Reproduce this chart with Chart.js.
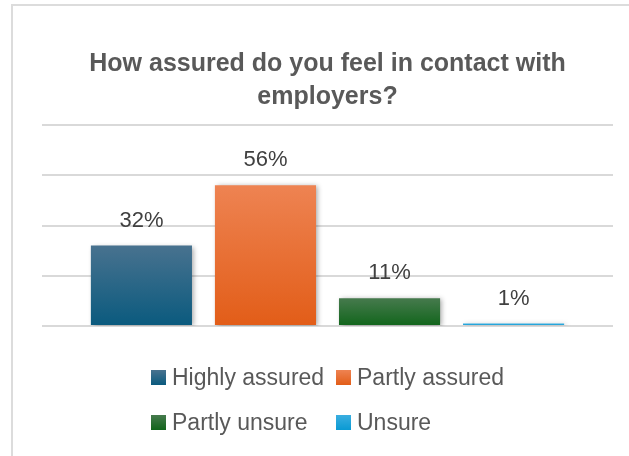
<!DOCTYPE html>
<html>
<head>
<meta charset="utf-8">
<script src="https://cdn.jsdelivr.net/npm/chart.js@4"></script>
<style>
  html, body { margin: 0; padding: 0; background: #ffffff; overflow: hidden; }
  body { width: 629px; height: 456px; position: relative; }
  .frame {
    position: absolute; left: 11px; top: 4px; width: 640px; height: 470px;
    border: 2px solid #dcdcdc; box-sizing: border-box;
  }
  .wrap { position: absolute; left: 12px; top: 5px; width: 631px; height: 451px; }
  .legend {
    position: absolute; left: 151px; top: 365px;
    display: grid; grid-template-columns: 185px 185px; row-gap: 20px;
    font-family: "Liberation Sans", Arial, sans-serif; font-size: 23px; color: #595959;
  }
  .item { display: flex; align-items: center; height: 25px; white-space: nowrap; }
  .box { width: 15px; height: 15px; margin-right: 6px; flex: none; }
</style>
</head>
<body>
<div class="frame"></div>
<div class="wrap"><canvas id="c"></canvas></div>
<div class="legend" id="legend"></div>
<script>
// Survey answers (percent of respondents)
const seriesNames = ['Highly assured', 'Partly assured', 'Partly unsure', 'Unsure'];
const seriesValues = [32, 56, 11, 1];
const titleLines = ['How assured do you feel in contact with', 'employers?'];
// Gradient stops per series: lighter at the top, darker at the base
const topColors = ['#48728f', '#ee8352', '#467a4d', '#3aaee0'];
const baseColors = ['#0a5a7e', '#e25d18', '#11651b', '#0a9ad3'];

function barGradient(i) {
  return (ctx) => {
    const chart = ctx.chart;
    if (!chart.chartArea || !chart.scales.y) return baseColors[i];
    const yScale = chart.scales.y;
    const top = yScale.getPixelForValue(seriesValues[i]);
    const base = yScale.getPixelForValue(0);
    if (!isFinite(top) || !isFinite(base) || top === base) return baseColors[i];
    const g = chart.ctx.createLinearGradient(0, top, 0, base);
    g.addColorStop(0, topColors[i]);
    g.addColorStop(1, baseColors[i]);
    return g;
  };
}

const datasets = seriesNames.map((name, i) => ({
  label: name,
  data: [seriesValues[i]],
  backgroundColor: barGradient(i),
  borderWidth: 0,
  categoryPercentage: 0.869,
  barPercentage: 0.815
}));

// Soft drop shadow behind the bars
const barShadow = {
  id: 'barShadow',
  beforeDatasetsDraw(chart) {
    const ctx = chart.ctx;
    ctx.save();
    ctx.shadowColor = 'rgba(0,0,0,0.35)';
    ctx.shadowBlur = 5;
    ctx.shadowOffsetX = 2;
    ctx.shadowOffsetY = 1;
  },
  afterDatasetsDraw(chart) {
    chart.ctx.restore();
  }
};

// Percentage labels above each bar
const valueLabels = {
  id: 'valueLabels',
  afterDatasetsDraw(chart) {
    const ctx = chart.ctx;
    ctx.save();
    ctx.font = '22px "Liberation Sans", Arial, sans-serif';
    ctx.fillStyle = '#404040';
    ctx.textAlign = 'center';
    ctx.textBaseline = 'middle';
    chart.data.datasets.forEach((ds, i) => {
      const meta = chart.getDatasetMeta(i);
      meta.data.forEach((bar, j) => {
        ctx.fillText(ds.data[j] + '%', bar.x, bar.y - 25);
      });
    });
    ctx.restore();
  }
};

new Chart(document.getElementById('c'), {
  type: 'bar',
  data: { labels: [''], datasets },
  plugins: [barShadow, valueLabels],
  options: {
    responsive: true,
    maintainAspectRatio: false,
    animation: false,
    layout: { padding: { top: 43, left: 30, right: 30, bottom: 130 } },
    scales: {
      x: { display: false },
      y: {
        min: 0, max: 80,
        ticks: { display: false, stepSize: 20 },
        border: { display: false },
        grid: { color: '#d9d9d9', lineWidth: 2, drawTicks: false }
      }
    },
    plugins: {
      legend: { display: false },
      tooltip: { enabled: false },
      title: {
        display: true,
        text: titleLines,
        color: '#595959',
        font: { family: '"Liberation Sans", Arial, sans-serif', size: 25, weight: 'bold', lineHeight: 1.3 },
        padding: { top: 0, bottom: 12 }
      }
    }
  }
});

// Legend laid out in two aligned columns
const legend = document.getElementById('legend');
seriesNames.forEach((name, i) => {
  const item = document.createElement('div');
  item.className = 'item';
  const box = document.createElement('span');
  box.className = 'box';
  box.style.background = 'linear-gradient(' + topColors[i] + ', ' + baseColors[i] + ')';
  const txt = document.createElement('span');
  txt.textContent = name;
  item.appendChild(box);
  item.appendChild(txt);
  legend.appendChild(item);
});
</script>
</body>
</html>
